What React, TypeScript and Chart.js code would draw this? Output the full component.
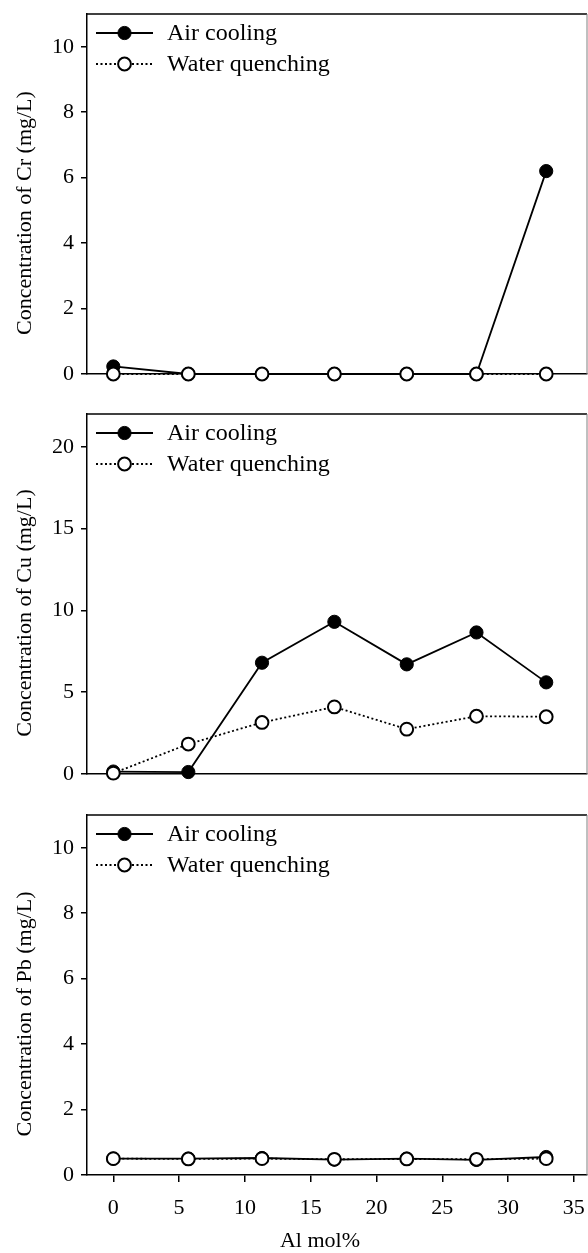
import React, { useEffect, useRef } from 'react';
import { Chart, registerables } from 'chart.js';

Chart.register(...registerables);

const FONT = "'Liberation Serif', 'Times New Roman', serif";

// ---- data ----
const alMol = [0, 5.7, 11.3, 16.8, 22.3, 27.6, 32.9];
const seriesNames = ['Air cooling', 'Water quenching'];

const crAir = [0.23, 0, 0, 0, 0, 0, 6.2];
const crWater = [0, 0, 0, 0, 0, 0, 0];

const cuAir = [0.15, 0.12, 6.8, 9.3, 6.7, 8.65, 5.6];
const cuWater = [0.05, 1.83, 3.15, 4.1, 2.74, 3.53, 3.5];

const pbAir = [0.5, 0.5, 0.52, 0.47, 0.5, 0.46, 0.55];
const pbWater = [0.5, 0.49, 0.5, 0.48, 0.49, 0.48, 0.5];

const crTicks = [0, 2, 4, 6, 8, 10];
const cuTicks = [0, 5, 10, 15, 20];
const pbTicks = [0, 2, 4, 6, 8, 10];
const xTicks = [0, 5, 10, 15, 20, 25, 30, 35];

const crTitle = 'Concentration of Cr (mg/L)';
const cuTitle = 'Concentration of Cu (mg/L)';
const pbTitle = 'Concentration of Pb (mg/L)';
const xTitle = 'Al mol%';

type PanelProps = {
  top: number;
  height: number;
  plotTop: number;
  plotBottom: number;
  yMax: number;
  yTicks: number[];
  air: number[];
  water: number[];
  yTitle: string;
  showX: boolean;
};

function Panel(p: PanelProps) {
  const ref = useRef<HTMLCanvasElement>(null);
  useEffect(() => {
    const canvas = ref.current!;
    const decor = {
      id: 'decor',
      afterDraw(chart: any) {
        const ctx = chart.ctx as CanvasRenderingContext2D;
        const a = chart.chartArea;
        ctx.save();
        // frame: top and right
        ctx.strokeStyle = '#000';
        ctx.lineWidth = 1.5;
        ctx.beginPath();
        ctx.moveTo(a.left, a.top);
        ctx.lineTo(a.right, a.top);
        ctx.stroke();
        ctx.strokeStyle = '#808080';
        ctx.lineWidth = 1;
        ctx.beginPath();
        ctx.moveTo(a.right, a.top);
        ctx.lineTo(a.right, a.bottom);
        ctx.stroke();

        // legend
        const ds = chart.data.datasets;
        for (let i = 0; i < ds.length; i++) {
          const d = ds[i];
          const y = a.top + 19 + i * 31;
          ctx.strokeStyle = '#000';
          ctx.lineWidth = d.borderWidth;
          ctx.setLineDash(d.borderDash || []);
          ctx.beginPath();
          ctx.moveTo(96, y);
          ctx.lineTo(153, y);
          ctx.stroke();
          ctx.setLineDash([]);
          ctx.beginPath();
          ctx.arc(124.5, y, d.pointRadius, 0, Math.PI * 2);
          ctx.fillStyle = d.pointBackgroundColor;
          ctx.fill();
          ctx.lineWidth = d.pointBorderWidth;
          ctx.strokeStyle = '#000';
          ctx.stroke();
          ctx.fillStyle = '#000';
          ctx.font = `24px ${FONT}`;
          ctx.textAlign = 'left';
          ctx.textBaseline = 'middle';
          ctx.fillText(d.label, 167, y + 1);
        }

        // y title
        ctx.save();
        ctx.translate(25, (a.top + a.bottom) / 2 + 19);
        ctx.rotate(-Math.PI / 2);
        ctx.font = `22px ${FONT}`;
        ctx.textAlign = 'center';
        ctx.textBaseline = 'middle';
        ctx.fillStyle = '#000';
        ctx.fillText(p.yTitle, 0, 0);
        ctx.restore();

        // x title
        if (p.showX) {
          ctx.font = `22px ${FONT}`;
          ctx.textAlign = 'center';
          ctx.textBaseline = 'middle';
          ctx.fillStyle = '#000';
          ctx.fillText(xTitle, 320, a.bottom + 66);
        }
        ctx.restore();
      },
    };

    const chart = new Chart(canvas, {
      type: 'line',
      data: {
        datasets: [
          {
            label: seriesNames[0],
            data: alMol.map((x, i) => ({ x, y: p.air[i] })),
            borderColor: '#000',
            borderWidth: 1.8,
            pointRadius: 6.6,
            pointBackgroundColor: '#000',
            pointBorderColor: '#000',
            pointBorderWidth: 1,
            tension: 0,
            order: 1,
            clip: false,
          } as any,
          {
            label: seriesNames[1],
            data: alMol.map((x, i) => ({ x, y: p.water[i] })),
            borderColor: '#000',
            borderWidth: 1.8,
            borderDash: [2, 2.5],
            pointRadius: 6.4,
            pointBackgroundColor: '#fff',
            pointBorderColor: '#000',
            pointBorderWidth: 2,
            tension: 0,
            order: 0,
            clip: false,
          } as any,
        ],
      },
      options: {
        responsive: false,
        animation: false,
        devicePixelRatio: 1,
        layout: { autoPadding: false, padding: { top: p.plotTop, right: 1, left: 0, bottom: 0 } },
        plugins: { legend: { display: false }, tooltip: { enabled: false } },
        scales: {
          x: {
            type: 'linear',
            min: -2,
            max: 36,
            afterBuildTicks: (s: any) => {
              s.ticks = xTicks.map((v) => ({ value: v }));
            },
            afterFit: (s: any) => {
              s.height = p.height - p.plotBottom;
              s.paddingLeft = 0;
              s.paddingRight = 0;
              s.paddingTop = 0;
              s.paddingBottom = 0;
            },
            ticks: {
              display: p.showX,
              font: { family: FONT, size: 22 },
              color: '#000',
              padding: 13,
              maxRotation: 0,
              autoSkip: false,
            },
            grid: {
              display: p.showX,
              drawOnChartArea: false,
              drawTicks: true,
              tickLength: 7,
              color: '#000',
              lineWidth: 1.5,
            },
            border: { display: true, color: '#000', width: 1.5 },
          },
          y: {
            type: 'linear',
            min: 0,
            max: p.yMax,
            afterBuildTicks: (s: any) => {
              s.ticks = p.yTicks.map((v) => ({ value: v }));
            },
            afterFit: (s: any) => {
              s.width = 87;
              s.paddingLeft = 0;
              s.paddingRight = 0;
              s.paddingTop = 0;
              s.paddingBottom = 0;
            },
            ticks: {
              font: { family: FONT, size: 22 },
              color: '#000',
              padding: 7,
              autoSkip: false,
            },
            grid: {
              drawOnChartArea: false,
              drawTicks: true,
              tickLength: 6,
              color: '#000',
              lineWidth: 1.5,
            },
            border: { display: true, color: '#000', width: 1.5 },
          },
        },
      } as any,
      plugins: [decor],
    });
    return () => chart.destroy();
  }, []);
  return (
    <canvas
      ref={ref}
      width={588}
      height={p.height}
      style={{ position: 'absolute', left: 0, top: p.top, width: 588, height: p.height, display: 'block' }}
    />
  );
}

export default function App() {
  return (
    <div style={{ position: 'absolute', left: 0, top: 0, width: 588, height: 1253, background: '#fff' }}>
      <Panel top={0} height={400} plotTop={14} plotBottom={374} yMax={11} yTicks={crTicks} air={crAir} water={crWater} yTitle={crTitle} showX={false} />
      <Panel top={400} height={400} plotTop={14} plotBottom={374} yMax={22} yTicks={cuTicks} air={cuAir} water={cuWater} yTitle={cuTitle} showX={false} />
      <Panel top={800} height={453} plotTop={15} plotBottom={375} yMax={11} yTicks={pbTicks} air={pbAir} water={pbWater} yTitle={pbTitle} showX={true} />
    </div>
  );
}
